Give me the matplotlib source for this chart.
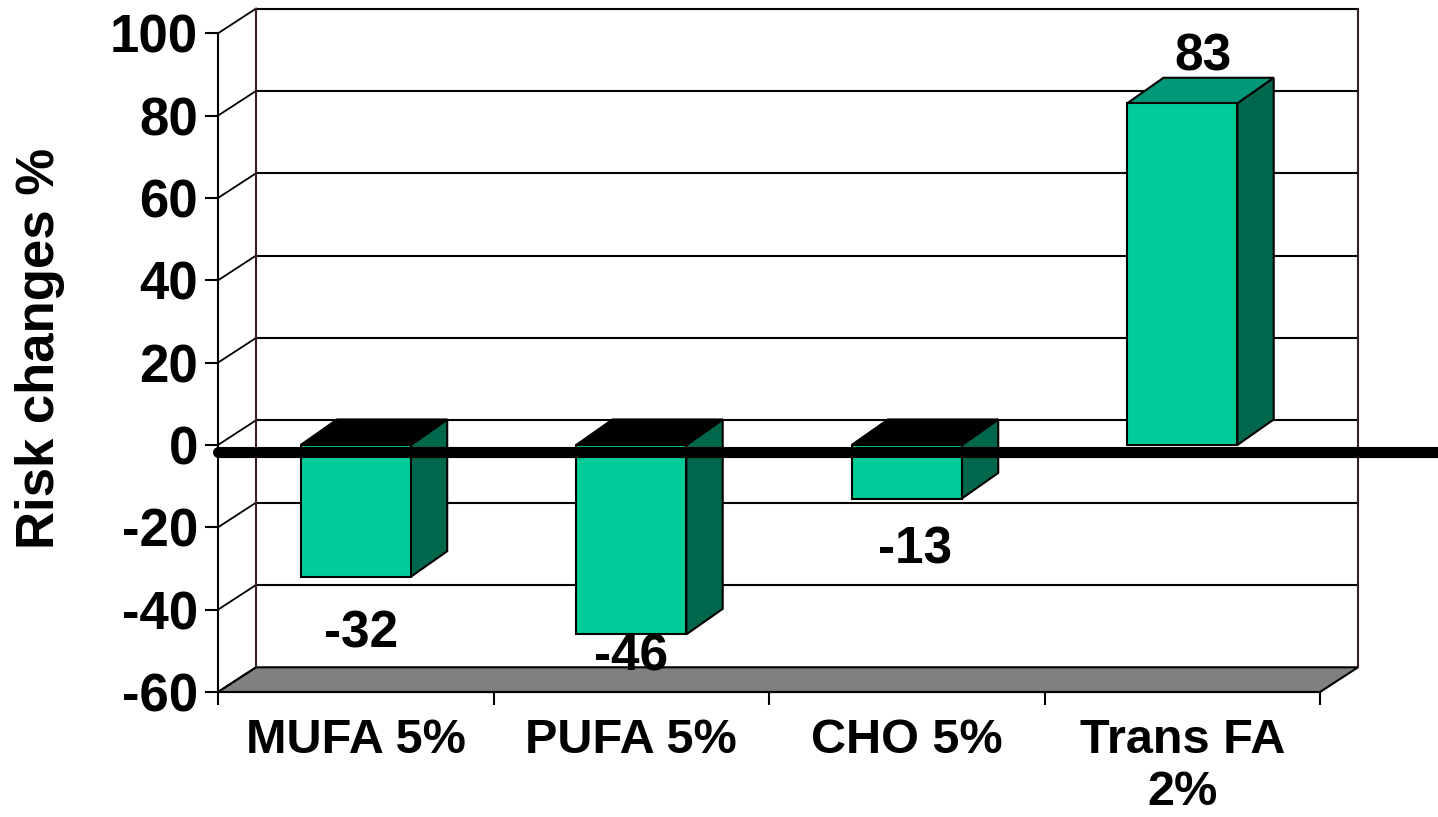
import matplotlib
matplotlib.use("Agg")
from matplotlib import pyplot as plt
from matplotlib.patches import Polygon

plt.rcParams['font.family'] = ['Liberation Sans', 'DejaVu Sans']
plt.rcParams['font.weight'] = 'bold'

# data
categories = ["MUFA 5%", "PUFA 5%", "CHO 5%", "Trans FA\n2%"]
risk_changes = [-32, -46, -13, 83]
y_ticks = [-60, -40, -20, 0, 20, 40, 60, 80, 100]

# layout of the value labels (x shift, baseline y)
label_dx = [0.02, 0.0, 0.03, 0.075]
label_y = [-49.1, -54.7, -28.7, 91.0]

front_color = "#00CC99"
side_color = "#00664C"
top_color = "#009977"

# depth of the pseudo 3d box, in data units
wall_dx, wall_dy = 0.138, 6.0
bar_dx, bar_dy = 0.132, 6.2
bar_w = 0.4

fig = plt.figure(figsize=(14.38, 8.17), dpi=100)
ax = fig.add_axes([218 / 1438, 125 / 817, 1102 / 1438, 658.7 / 817])
ax.set_xlim(-0.5, 3.5)
ax.set_ylim(-60, 100)
ax.patch.set_visible(False)

for s in ["top", "right"]:
    ax.spines[s].set_visible(False)
ax.spines["left"].set_linewidth(1.5)
ax.spines["bottom"].set_linewidth(1.5)

# floor
x0, x1 = -0.5, 3.5
floor = Polygon([(x0, -60), (x1, -60), (x1 + wall_dx, -60 + wall_dy), (x0 + wall_dx, -60 + wall_dy)],
                closed=True, facecolor="#808080", edgecolor="black", lw=1.5, zorder=1, clip_on=False)
ax.add_patch(floor)

# back wall gridlines and left wall diagonals
for v in y_ticks:
    if v > -60:
        ax.plot([x0 + wall_dx, x1 + wall_dx], [v + wall_dy, v + wall_dy], color="black", lw=1.5,
                zorder=1, clip_on=False)
    ax.plot([x0, x0 + wall_dx], [v, v + wall_dy], color="black", lw=1.3, zorder=1, clip_on=False)
for xv in [x0 + wall_dx, x1 + wall_dx]:
    ax.plot([xv, xv], [-60 + wall_dy, 100 + wall_dy], color="#3a2020", lw=1.5, zorder=1, clip_on=False)

# bars
for i, v in enumerate(risk_changes):
    left = i - bar_w / 2
    right = i + bar_w / 2
    front = Polygon([(left, 0), (right, 0), (right, v), (left, v)], closed=True,
                    facecolor=front_color, edgecolor="black", lw=1.5, zorder=3)
    side = Polygon([(right, 0), (right + bar_dx, bar_dy), (right + bar_dx, v + bar_dy), (right, v)],
                   closed=True, facecolor=side_color, edgecolor="black", lw=1.5, zorder=3)
    top_y = max(v, 0)
    top = Polygon([(left, top_y), (right, top_y), (right + bar_dx, top_y + bar_dy), (left + bar_dx, top_y + bar_dy)],
                  closed=True, facecolor=top_color if v > 0 else "black", edgecolor="black", lw=1.5, zorder=3)
    for p in (side, top, front):
        ax.add_patch(p)
    ax.text(i + label_dx[i], label_y[i], str(v), ha="center", va="baseline",
            fontsize=37, fontweight="bold", zorder=6)

# thick zero line
ax.plot([-0.5, 4.0], [-1.8, -1.8], color="black", lw=8, solid_capstyle="round", zorder=5, clip_on=False)

# axes ticks
ax.set_yticks(y_ticks)
ax.set_yticklabels([str(t) for t in y_ticks])
ax.tick_params(axis="y", direction="out", length=9.5, width=1.5, pad=5, labelsize=38)
ax.set_xticks([-0.5, 0.5, 1.5, 2.5, 3.5])
ax.set_xticklabels([])
ax.tick_params(axis="x", which="major", direction="out", length=9.5, width=1.5)
ax.set_xticks(range(len(categories)), minor=True)
ax.set_xticklabels(categories, minor=True, fontsize=35, fontweight="bold", linespacing=1.18)
ax.tick_params(axis="x", which="minor", length=0, pad=19)

fig.text(40 / 1438, 1 - 348 / 817, "Risk changes %", rotation=90, ha="center", va="center",
         fontsize=38, fontweight="bold")

fig.savefig("out.png", dpi=100)
